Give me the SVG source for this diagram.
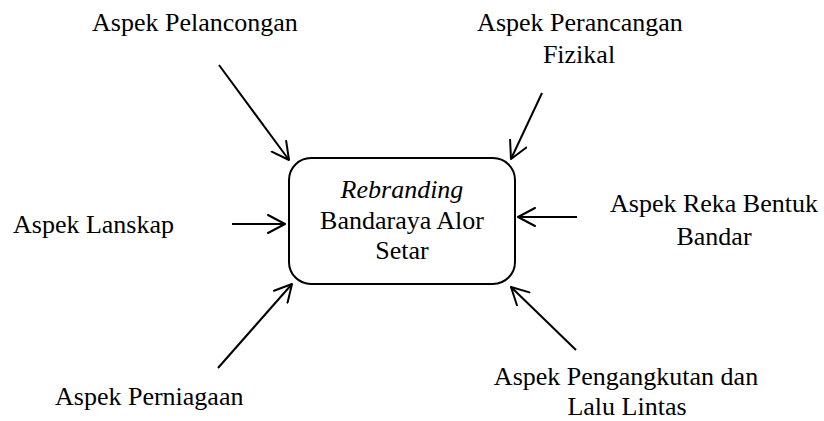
<svg xmlns="http://www.w3.org/2000/svg" width="824" height="421" viewBox="0 0 824 421">
<style>
text{font-family:'Liberation Serif',Tinos,'Times New Roman',Times,'DejaVu Serif',serif;font-size:26px;fill:#000}
.c{text-anchor:middle}
.conn line{stroke:#000;stroke-width:2;fill:none}
.box{fill:#fff;stroke:#000;stroke-width:2}
</style>
<defs>
<marker id="ah" viewBox="0 0 20 20" refX="18" refY="10" markerWidth="20" markerHeight="20" markerUnits="userSpaceOnUse" orient="auto">
<path d="M1,1 L18,10 L1,19" fill="none" stroke="#000" stroke-width="2" stroke-linejoin="round" stroke-linecap="round"/>
</marker>
</defs>
<rect width="824" height="421" fill="#fff"/>
<g id="center">
<rect class="box" x="289" y="158" width="226" height="126" rx="22"/>
<text class="c" x="402" y="198" font-style="italic">Rebranding</text>
<text class="c" x="402" y="229">Bandaraya Alor</text>
<text class="c" x="402" y="259">Setar</text>
</g>
<g id="pelancongan"><text x="92" y="31">Aspek Pelancongan</text></g>
<g id="perancangan"><text class="c" x="580" y="31">Aspek Perancangan</text><text class="c" x="579" y="63">Fizikal</text></g>
<g id="lanskap"><text x="13" y="233">Aspek Lanskap</text></g>
<g id="reka"><text class="c" x="714" y="212">Aspek Reka Bentuk</text><text class="c" x="714" y="245">Bandar</text></g>
<g id="perniagaan"><text x="55" y="405">Aspek Perniagaan</text></g>
<g id="pengangkutan"><text class="c" x="626" y="385">Aspek Pengangkutan dan</text><text class="c" x="627" y="415">Lalu Lintas</text></g>
<g class="conn" id="connectors">
<line x1="219" y1="65" x2="289" y2="160" marker-end="url(#ah)"/>
<line x1="542" y1="93" x2="511" y2="159" marker-end="url(#ah)"/>
<line x1="232" y1="224" x2="285" y2="224" marker-end="url(#ah)"/>
<line x1="577" y1="217" x2="518" y2="217" marker-end="url(#ah)"/>
<line x1="218" y1="368" x2="292" y2="284" marker-end="url(#ah)"/>
<line x1="576" y1="350" x2="511" y2="287" marker-end="url(#ah)"/>
</g>
</svg>
